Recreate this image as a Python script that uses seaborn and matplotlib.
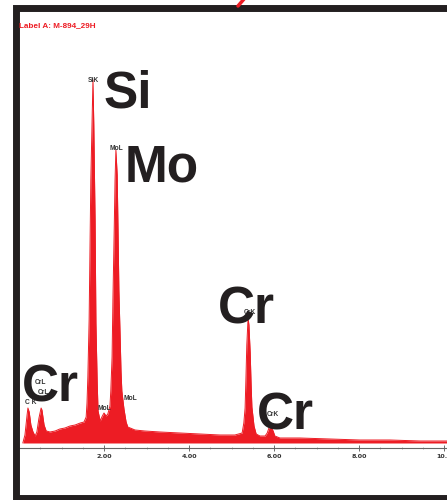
import matplotlib
matplotlib.use("Agg")
import matplotlib.pyplot as plt
from matplotlib.lines import Line2D
import seaborn as sns
import pandas as pd

# ---------------- data ----------------
energy_kev = [0.09, 0.14, 0.19, 0.21, 0.24, 0.28, 0.33, 0.38, 0.42, 0.47, 0.52, 0.54,
              0.59, 0.64, 0.73, 0.85, 0.96, 1.08, 1.20, 1.32, 1.44, 1.53, 1.58, 1.60,
              1.62, 1.65, 1.67, 1.69, 1.72, 1.74, 1.76, 1.79, 1.81, 1.84, 1.86, 1.91,
              1.95, 2.00, 2.05, 2.09, 2.14, 2.16, 2.19, 2.21, 2.24, 2.26, 2.28, 2.31,
              2.33, 2.35, 2.38, 2.40, 2.42, 2.47, 2.52, 2.56, 2.73, 2.96, 3.32, 3.79,
              4.26, 4.73, 5.08, 5.25, 5.29, 5.32, 5.34, 5.36, 5.39, 5.41, 5.44, 5.46,
              5.48, 5.53, 5.58, 5.67, 5.79, 5.84, 5.88, 5.93, 5.98, 6.02, 6.14, 6.61,
              7.32, 8.02, 8.73, 9.44, 10.07]
counts = [0, 80, 280, 350, 310, 180, 110, 70, 110, 250, 350, 330,
          180, 120, 110, 120, 140, 150, 170, 180, 200, 210, 260, 400,
          660, 1230, 1930, 2630, 3230, 3630, 3180, 2230, 1200, 600, 320, 220,
          260, 300, 270, 290, 370, 520, 860, 1430, 2130, 2630, 2930, 2680,
          2130, 1530, 1060, 720, 520, 340, 210, 160, 130, 120, 110, 100,
          90, 80, 80, 100, 200, 350, 650, 980, 1250, 1180, 900, 600,
          360, 170, 90, 70, 70, 100, 150, 160, 120, 70, 50, 50,
          40, 30, 30, 20, 20]

tick_values = [2, 4, 6, 8, 10]
tick_labels = ["2.00", "4.00", "6.00", "8.00", "10.0"]

line_labels = ["SiK", "MoL", "CrK", "CrK", "CrL", "CrL", "C K", "MoL", "MoL"]
element_labels = ["Si", "Mo", "Cr", "Cr", "Cr"]
title_label = "Label A: M-894_29H"

# ---------------- layout ----------------
W, H = 447, 500
RED = "#ED1C24"
INK = "#231F20"

sns.set_theme(style="white")
plt.rcParams["font.family"] = ["Liberation Sans", "DejaVu Sans"]

fig = plt.figure(figsize=(W / 100, H / 100), dpi=100)
fig.patch.set_facecolor("white")

px_per_kev = 42.5
x0_px, base_px = 19, 443
def kx(px):
    return (px - x0_px) / px_per_kev
def cy(py):
    return (base_px - py) * 10

ax_bottom_px, ax_top_px = 448, 20
ax = fig.add_axes([x0_px / W, (H - ax_bottom_px) / H, (W - x0_px) / W,
                   (ax_bottom_px - ax_top_px) / H])
ax.set_facecolor("none")

df = pd.DataFrame({"energy": energy_kev, "counts": counts})
sns.lineplot(data=df, x="energy", y="counts", ax=ax, color=RED, lw=0.7,
             estimator=None, sort=False, legend=False)
ax.fill_between(df["energy"], 0, df["counts"], color=RED, lw=0)

ax.set_xlim(0, kx(W))
ax.set_ylim(cy(ax_bottom_px), cy(ax_top_px))
ax.set_xlabel("")
ax.set_ylabel("")
ax.set_yticks([])
for s in ["left", "right", "top"]:
    ax.spines[s].set_visible(False)
ax.spines["bottom"].set_color("#666666")
ax.spines["bottom"].set_linewidth(0.8)
ax.set_xticks(tick_values)
ax.set_xticklabels(tick_labels, fontsize=4.6, fontweight="bold", color="#333333",
                   family=["DejaVu Sans"])
ax.set_xticks([i * 0.5 for i in range(21)], minor=True)
ax.tick_params(axis="x", which="major", direction="inout", length=5, width=0.6,
               color="#555555", pad=2, bottom=True)
ax.tick_params(axis="x", which="minor", direction="inout", length=2, width=0.4,
               color="#777777", bottom=True)

# small line labels (pixel anchors: left, vertical centre)
small_pos = [(88, 81), (110, 148), (244, 313), (267, 415), (35, 382), (38, 393),
             (25, 403), (98, 409), (124, 398)]
for txt, (px, py) in zip(line_labels, small_pos):
    ax.text(kx(px), cy(py), txt, fontsize=4.8, fontweight="bold", color="#333333",
            ha="left", va="center", zorder=3)

# big element labels (pixel anchors: left, baseline)
big_pos = [(104, 107), (125, 182), (218, 323), (257, 429), (22, 402)]
for txt, (px, py) in zip(element_labels, big_pos):
    ax.text(kx(px), cy(py), txt, fontsize=37, fontweight="bold", color=INK,
            ha="left", va="baseline", zorder=5, family=["Liberation Sans"])

# title label
fig.text(19 / W, 1 - 26 / H, title_label, fontsize=5.9, fontweight="bold",
         color=RED, ha="left", va="center")

# frame
def fx(px):
    return px / W
def fy(py):
    return 1 - py / H
frame = Line2D([fx(W + 10), fx(16), fx(16), fx(W + 10)],
               [fy(8), fy(8), fy(498), fy(498)], transform=fig.transFigure,
               color=INK, lw=5, solid_joinstyle="miter")
fig.add_artist(frame)
stroke = Line2D([fx(238), fx(244)], [fy(6), fy(-1)], transform=fig.transFigure,
                color=RED, lw=2.5)
fig.add_artist(stroke)

fig.savefig("out.png", dpi=100)
